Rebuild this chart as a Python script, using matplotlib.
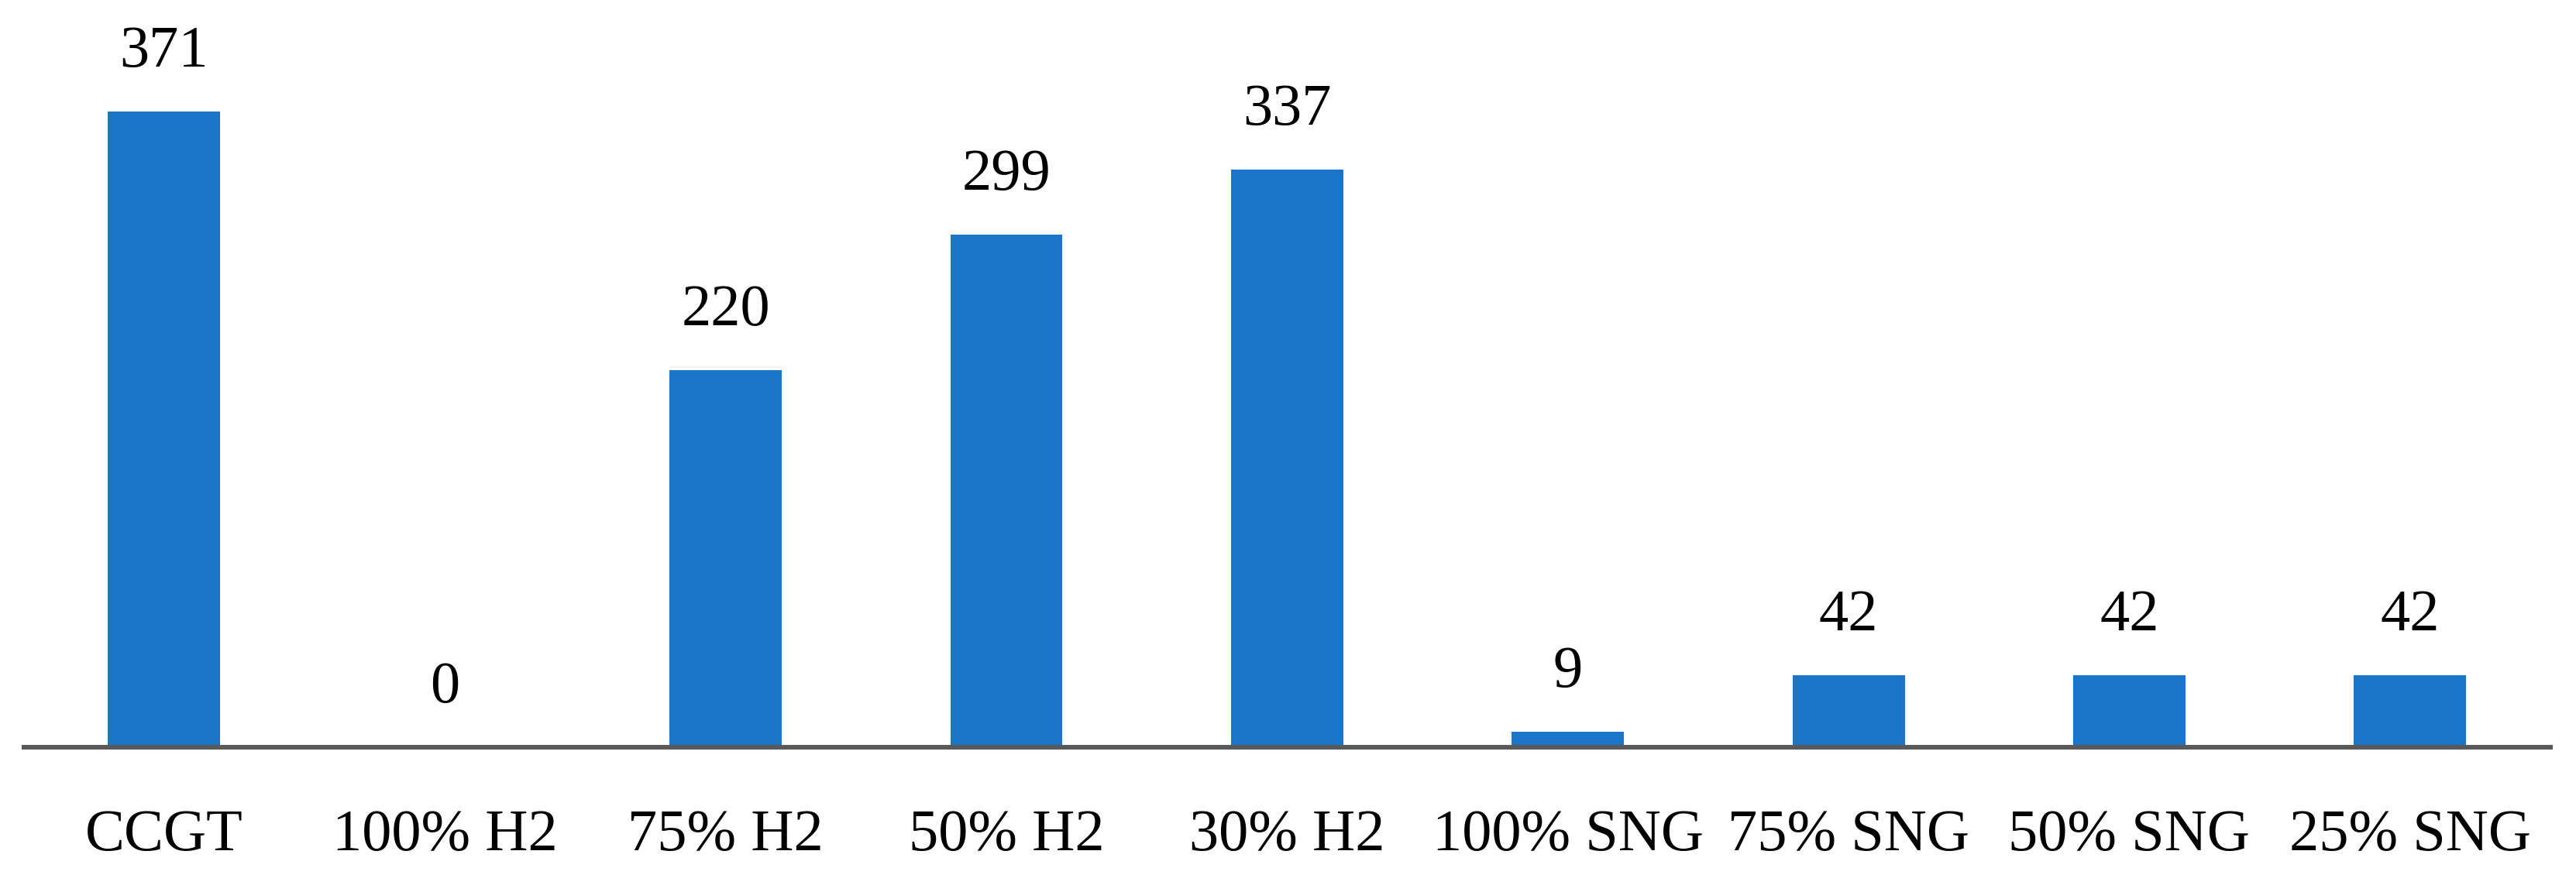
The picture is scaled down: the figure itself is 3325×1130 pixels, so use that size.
import matplotlib
matplotlib.use("Agg")
import matplotlib.pyplot as plt

categories = ["CCGT", "100% H2", "75% H2", "50% H2", "30% H2",
              "100% SNG", "75% SNG", "50% SNG", "25% SNG"]
values = [371, 0, 220, 299, 337, 9, 42, 42, 42]

plt.rcParams['font.family'] = ['Liberation Serif', 'DejaVu Serif']

fig = plt.figure(figsize=(33.25, 11.3), dpi=100)
ax = fig.add_axes([0.00925, 0.1463, 0.9808, 0.8537])

x = list(range(len(categories)))
bars = ax.bar(x, values, width=0.4, color="#1A74C8")

for xi, v in zip(x, values):
    ax.annotate(str(v), xy=(xi, v), xytext=(0, 30), textcoords="offset points",
                ha="center", va="bottom", fontsize=55, color="black")

ax.set_xlim(-0.5, len(categories) - 0.5)
ax.set_ylim(0, 436)
ax.set_xticks(x)
ax.set_xticklabels(categories, fontsize=55)
ax.tick_params(axis="x", length=0, pad=58)
ax.set_yticks([])
for s in ["top", "right", "left"]:
    ax.spines[s].set_visible(False)
ax.spines["bottom"].set_color("#595959")
ax.spines["bottom"].set_linewidth(4.3)

fig.savefig("out.png", dpi=100)
